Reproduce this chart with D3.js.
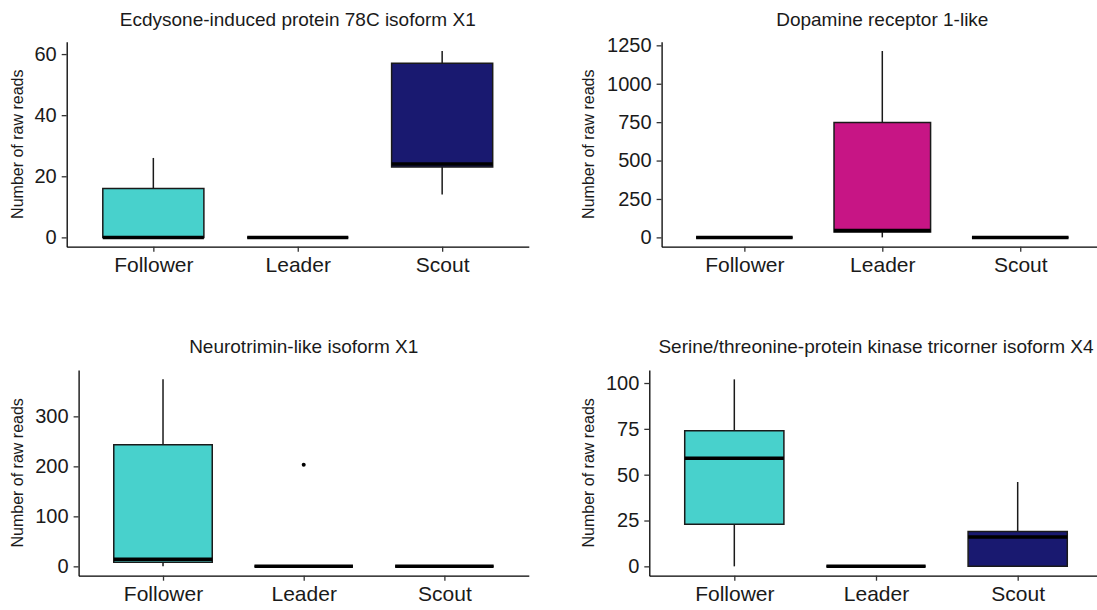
<!DOCTYPE html>
<html>
<head>
<meta charset="utf-8">
<script src="https://cdn.jsdelivr.net/npm/d3@7"></script>
<style>
  html, body { margin: 0; padding: 0; background: #ffffff; }
  svg { display: block; }
  text { font-family: "Liberation Sans", Arial, Helvetica, sans-serif; }
</style>
</head>
<body>
<svg id="chart" width="1097" height="610"></svg>
<script>
// Groups along the x axis
const categories = ["Follower", "Leader", "Scout"];
const groupColors = ["#48D1CC", "#C71585", "#191970"];

// Panel titles
const titles = [
  "Ecdysone-induced protein 78C isoform X1",
  "Dopamine receptor 1-like",
  "Neurotrimin-like isoform X1",
  "Serine/threonine-protein kinase tricorner isoform X4"
];

// Box statistics per group: [lower whisker, Q1, median, Q3, upper whisker]
const ecdysoneStats    = [[0, 0, 0, 16, 26], [0, 0, 0, 0, 0], [14, 23, 24, 57, 61]];
const dopamineStats    = [[0, 0, 0, 0, 0], [0, 35, 45, 748, 1213], [0, 0, 0, 0, 6]];
const neurotriminStats = [[0, 8, 14, 243, 374], [0, 0, 0, 0, 0], [0, 0, 0, 0, 0]];
const kinaseStats      = [[0, 23, 59, 74, 102], [0, 0, 0, 0, 0], [0, 0, 16, 19, 46]];

// Outlying points: [group, value]
const ecdysoneOutliers = [];
const dopamineOutliers = [];
const neurotriminOutliers = [["Leader", 203]];
const kinaseOutliers = [];

// Y tick labels
const ecdysoneTicks = [0, 20, 40, 60];
const dopamineTicks = [0, 250, 500, 750, 1000, 1250];
const neurotriminTicks = [0, 100, 200, 300];
const kinaseTicks = [0, 25, 50, 75, 100];

const yAxisTitle = "Number of raw reads";

// Layout of the four panels (plot area edges, title baseline, y-title baseline)
const panels = [
  { stats: ecdysoneStats, outliers: ecdysoneOutliers, ticks: ecdysoneTicks, title: titles[0],
    left: 66.7, right: 528.8, top: 41.7, bottom: 246.7, titleY: 25.5, yTitleX: 22.5 },
  { stats: dopamineStats, outliers: dopamineOutliers, ticks: dopamineTicks, title: titles[1],
    left: 661.6, right: 1103, top: 41.7, bottom: 246.7, titleY: 25.5, yTitleX: 593.5 },
  { stats: neurotriminStats, outliers: neurotriminOutliers, ticks: neurotriminTicks, title: titles[2],
    left: 78.6, right: 528.8, top: 370, bottom: 575.7, titleY: 353.3, yTitleX: 22.5 },
  { stats: kinaseStats, outliers: kinaseOutliers, ticks: kinaseTicks, title: titles[3],
    left: 649.3, right: 1102.7, top: 370, bottom: 575.7, titleY: 353.3, yTitleX: 593.5 }
];

const lineW = 1.5;
const svg = d3.select("#chart");

panels.forEach(p => {
  const g = svg.append("g");

  // Data extent incl. outliers, padded by 5% like a ggplot continuous scale
  const maxVal = d3.max([
    d3.max(p.stats, s => s[4]),
    d3.max(p.outliers, o => o[1]) || 0
  ]);
  const minVal = 0;
  const pad = (maxVal - minVal) * 0.05;

  const x = d3.scalePoint().domain(categories).range([p.left, p.right]).padding(0.6);
  const y = d3.scaleLinear().domain([minVal - pad, maxVal + pad]).range([p.bottom, p.top]);
  const boxW = x.step() * 0.7;

  // Axes
  const yAxis = d3.axisLeft(y).tickValues(p.ticks).tickSize(5).tickPadding(5).tickSizeOuter(0)
    .tickFormat(d3.format("d"));
  const xAxis = d3.axisBottom(x).tickSize(5).tickPadding(5).tickSizeOuter(0);

  const gy = g.append("g").attr("transform", `translate(${p.left},0)`).call(yAxis);
  const gx = g.append("g").attr("transform", `translate(0,${p.bottom})`).call(xAxis);

  [gx, gy].forEach(a => {
    a.select(".domain").attr("stroke", "#000").attr("stroke-width", 1.3);
    a.selectAll(".tick line").attr("stroke", "#333").attr("stroke-width", 1.3);
    a.selectAll(".tick text").attr("fill", "#1a1a1a")
      .attr("font-family", "'Liberation Sans', Arial, sans-serif");
  });
  gy.selectAll(".tick text").attr("font-size", 20);
  gx.selectAll(".tick text").attr("font-size", 21);

  // Panel title
  g.append("text")
    .attr("x", (p.left + p.right) / 2)
    .attr("y", p.titleY)
    .attr("text-anchor", "middle")
    .attr("font-size", 19)
    .attr("fill", "#1a1a1a")
    .text(p.title);

  // Y axis title
  g.append("text")
    .attr("transform", `translate(${p.yTitleX},${(p.top + p.bottom) / 2}) rotate(-90)`)
    .attr("text-anchor", "middle")
    .attr("font-size", 16)
    .attr("fill", "#1a1a1a")
    .text(yAxisTitle);

  // Boxes
  const boxes = g.append("g");
  categories.forEach((cat, i) => {
    const [lo, q1, med, q3, hi] = p.stats[i];
    const cx = x(cat);
    const bg = boxes.append("g");

    if (hi > q3) {
      bg.append("line").attr("x1", cx).attr("x2", cx).attr("y1", y(q3)).attr("y2", y(hi))
        .attr("stroke", "#1a1a1a").attr("stroke-width", lineW);
    }
    if (lo < q1) {
      bg.append("line").attr("x1", cx).attr("x2", cx).attr("y1", y(q1)).attr("y2", y(lo))
        .attr("stroke", "#1a1a1a").attr("stroke-width", lineW);
    }

    const x0 = cx - boxW / 2, x1 = cx + boxW / 2;
    bg.append("path")
      .attr("d", `M${x0},${y(q3)}H${x1}V${y(q1)}H${x0}Z`)
      .attr("fill", groupColors[i])
      .attr("stroke", "#1a1a1a")
      .attr("stroke-width", lineW);

    bg.append("line").attr("x1", x0).attr("x2", x1).attr("y1", y(med)).attr("y2", y(med))
      .attr("stroke", "#000").attr("stroke-width", 3.5);
  });

  // Outliers
  g.append("g").selectAll("circle").data(p.outliers).join("circle")
    .attr("cx", d => x(d[0]))
    .attr("cy", d => y(d[1]))
    .attr("r", 2)
    .attr("fill", "#000");
});
</script>
</body>
</html>
